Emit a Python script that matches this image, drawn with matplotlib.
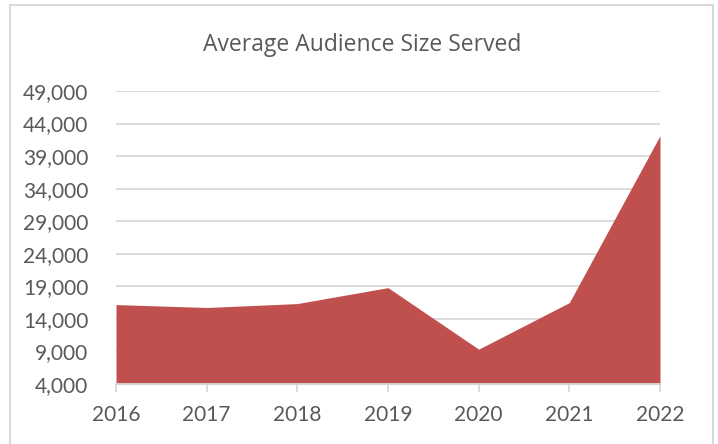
import matplotlib
matplotlib.use("Agg")
import matplotlib.pyplot as plt
from matplotlib.patches import Rectangle
from matplotlib.ticker import FuncFormatter

years = ["2016", "2017", "2018", "2019", "2020", "2021", "2022"]
audience = [16200, 15750, 16350, 18800, 9350, 16500, 42150]
y_ticks = list(range(4000, 49001, 5000))
title = "Average Audience Size Served"

fill_color = "#C0504D"
grid_color = "#D9D9D9"
text_color = "#595959"

fig = plt.figure(figsize=(7.18, 4.44), dpi=100)
ax = fig.add_axes([116/718, 60/444, (660-116)/718, (384-91)/444])

x = list(range(len(years)))
ax.fill_between(x, 4000, audience, color=fill_color, linewidth=0, zorder=3)

ax.set_xlim(0, len(years) - 1)
ax.set_ylim(4000, 49000)
ax.set_yticks(y_ticks)
ax.yaxis.set_major_formatter(FuncFormatter(lambda v, p: f"{int(v):,}"))
ax.set_xticks(x)
ax.set_xticklabels(years)

ax.grid(axis="y", color=grid_color, linewidth=1.3, zorder=0)
ax.set_axisbelow(True)
for s in ["top", "right", "left"]:
    ax.spines[s].set_visible(False)
ax.spines["bottom"].set_color(grid_color)
ax.spines["bottom"].set_linewidth(1.3)
ax.spines["bottom"].set_zorder(4)

ax.tick_params(axis="y", length=0, pad=20, labelsize=15, labelcolor=text_color)
ax.tick_params(axis="x", length=6, width=1.3, color=grid_color, direction="out",
               pad=9, labelsize=15, labelcolor=text_color)
for lbl in ax.get_xticklabels() + ax.get_yticklabels():
    lbl.set_fontfamily("Lato")

fig.text(362/718, 1 - 45/444, title, ha="center", va="center",
         fontsize=16.5, color=text_color, family="Open Sans")

fig.patches.append(Rectangle((10/718, -0.05), 703/718, 1.05 - 5/444,
                             transform=fig.transFigure, fill=False,
                             edgecolor=grid_color, linewidth=1.5))

fig.savefig("out.png", dpi=100)
